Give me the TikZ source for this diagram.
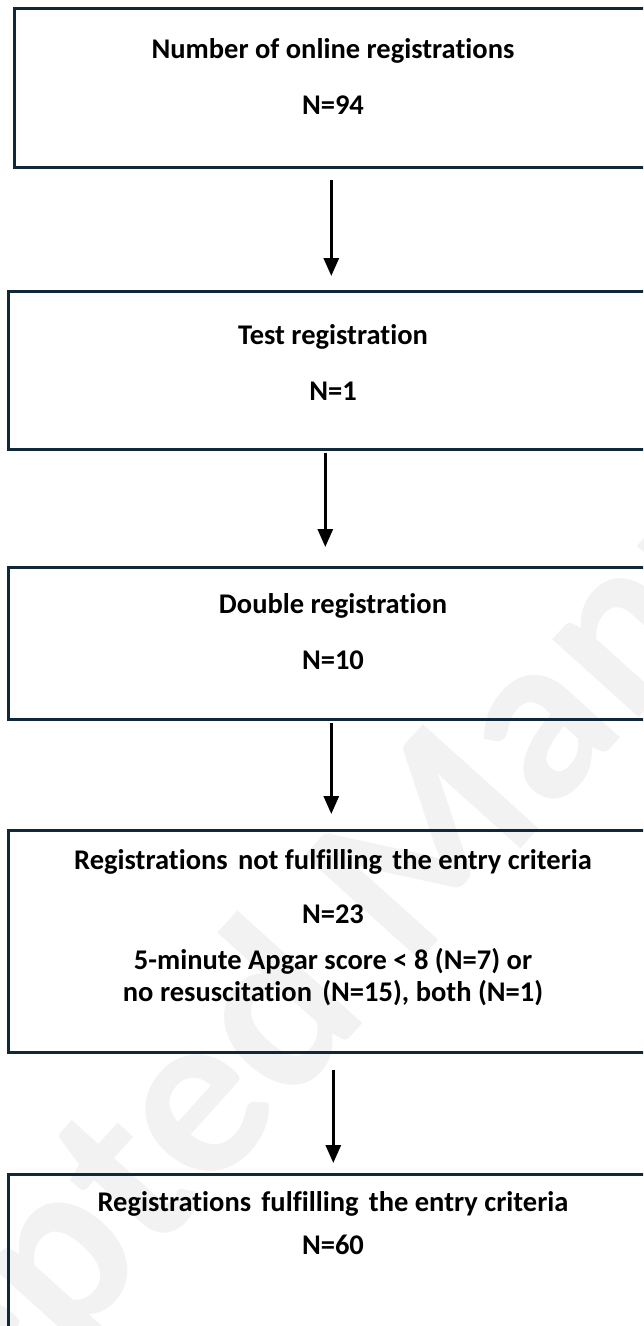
\documentclass[tikz,border=0pt]{standalone}
\usepackage{fontspec}
\setmainfont{Carlito}[Ligatures=NoCommon]
\usetikzlibrary{arrows.meta}
\definecolor{boxline}{HTML}{10293A}
\definecolor{wmark}{HTML}{F2F2F2}
\tikzset{
  stagebox/.style={draw=boxline, line width=2.6pt, rectangle, minimum width=640pt, inner sep=0pt, anchor=north west},
  lbl/.style={font=\fontsize{28.5}{33}\selectfont\bfseries, inner sep=0pt, anchor=center, align=center},
  flow/.style={draw=black, line width=3pt, -{Triangle[length=18pt,width=15pt]}}
}
\newcommand{\wsp}{\hspace{0.36em}}
\begin{document}
\begin{tikzpicture}[x=1pt,y=-1pt]
\useasboundingbox (0,0) rectangle (643,1326);
\clip (0,0) rectangle (643,1326);
\fill[white] (0,0) rectangle (643,1326);
% watermark
\node[text=wmark, font=\fontsize{240}{240}\selectfont\bfseries, rotate=48, inner sep=0pt] (wm) at (414,870) {Accepted Manuscript};
% boxes
\node[stagebox, minimum height=159pt] (b1) at (13,7) {};
\node[stagebox, minimum height=158pt] (b2) at (7,290) {};
\node[stagebox, minimum height=152pt] (b3) at (7,566) {};
\node[stagebox, minimum height=222pt] (b4) at (7,829) {};
\node[stagebox, minimum height=200pt] (b5) at (7,1173) {};
% texts
\node[lbl] (t1a) at (333,51) {Number of online registrations};
\node[lbl] (t1b) at (333,105) {N=94};
\node[lbl] (t2a) at (333,337) {Test registration};
\node[lbl] (t2b) at (333,391) {N=1};
\node[lbl] (t3a) at (333,606) {Double registration};
\node[lbl] (t3b) at (333,660) {N=10};
\node[lbl] (t4a) at (333,862) {Registrations\wsp not fulfilling\wsp the entry criteria};
\node[lbl] (t4b) at (333,914) {N=23};
\node[lbl] (t4c) at (333,961) {5-minute Apgar score < 8 (N=7) or};
\node[lbl] (t4d) at (333,993) {no resuscitation\wsp (N=15), both (N=1)};
\node[lbl] (t5a) at (333,1204) {Registrations\wsp fulfilling\wsp the entry criteria};
\node[lbl] (t5b) at (333,1245) {N=60};
% arrows
\draw[flow, shorten <=11pt, shorten >=14pt] ([xshift=-3pt]b1.south) -- ([xshift=-3pt]b1.south |- b2.north);
\draw[flow, shorten <=2pt, shorten >=19pt] ([xshift=-3pt]b2.south) -- ([xshift=-3pt]b2.south |- b3.north);
\draw[flow, shorten <=2pt, shorten >=15pt] ([xshift=3pt]b3.south) -- ([xshift=3pt]b3.south |- b4.north);
\draw[flow, shorten <=16pt, shorten >=10pt] ([xshift=5pt]b4.south) -- ([xshift=5pt]b4.south |- b5.north);
\end{tikzpicture}
\end{document}
